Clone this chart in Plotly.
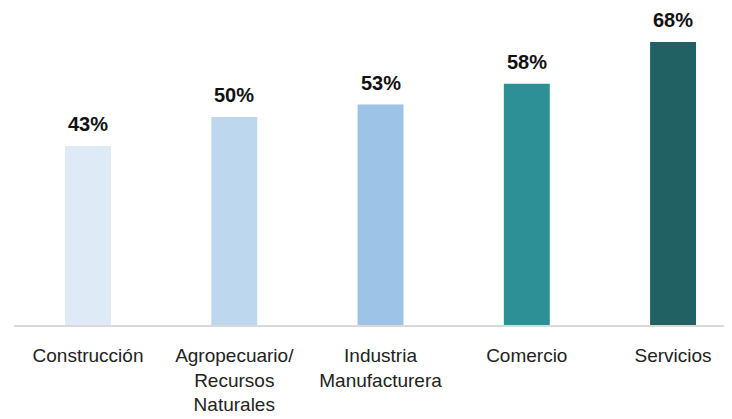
import plotly.graph_objects as go

categories = ["Construcción", "Agropecuario/<br>Recursos<br>Naturales", "Industria<br>Manufacturera", "Comercio", "Servicios"]
values = [43, 50, 53, 58, 68]
labels = ["43%", "50%", "53%", "58%", "68%"]
colors = ["#DEEAF6", "#BDD7EE", "#9DC3E6", "#2E9097", "#216063"]

x = list(range(len(categories)))
font_fam = "Liberation Sans Narrow, Arial Narrow, Liberation Sans, Arial, sans-serif"

fig = go.Figure(go.Bar(
    x=x, y=values, width=0.314,
    marker=dict(color=colors, line=dict(width=0)),
))

for xi, v, lab in zip(x, values, labels):
    fig.add_annotation(x=xi, y=v, text=lab, showarrow=False, yanchor="middle", yshift=22,
                       font=dict(family=font_fam, size=20, color="#111111", weight="bold"))

fig.update_layout(
    width=724, height=411,
    margin=dict(l=6, r=0, t=0, b=94, autoexpand=False),
    plot_bgcolor="white", paper_bgcolor="white",
    showlegend=False,
    xaxis=dict(range=[-0.506, 4.403], tickmode="array", tickvals=x, ticktext=categories,
               showgrid=False, zeroline=False, showline=True, linecolor="#D9D9D9", linewidth=2,
               ticks="", ticklabelstandoff=12, automargin=False,
               tickfont=dict(family=font_fam, size=19, color="#222222")),
    yaxis=dict(range=[0, 76.2], visible=False, showgrid=False, zeroline=False, automargin=False),
)

fig.write_html("out.html")
